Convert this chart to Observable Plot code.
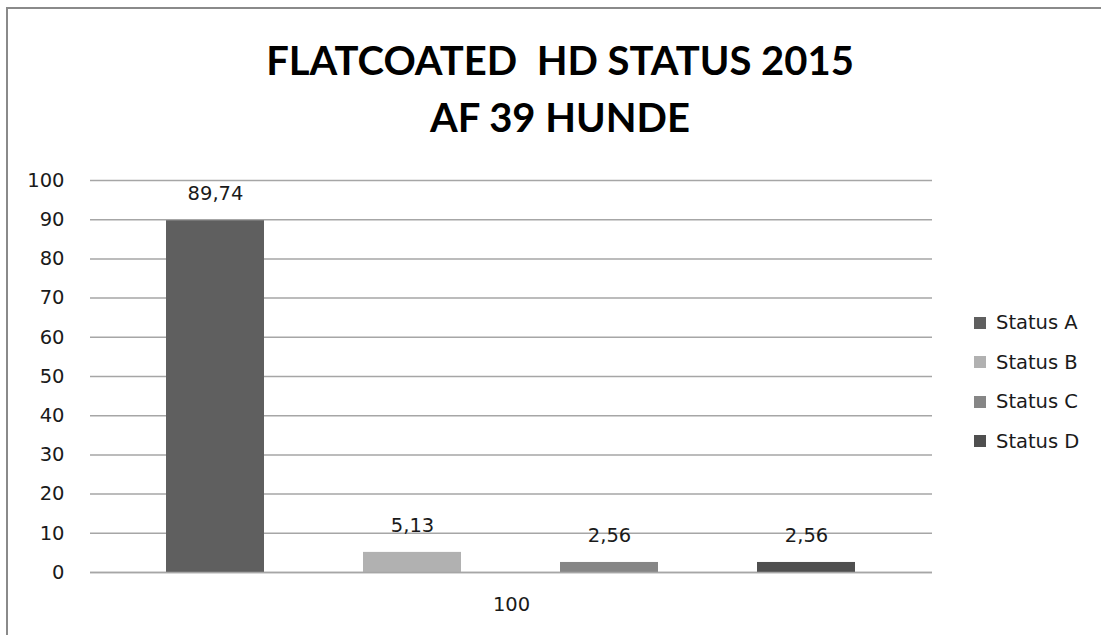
<!DOCTYPE html>
<html><head><meta charset="utf-8">
<script src="https://cdn.jsdelivr.net/npm/d3@7"></script>
<script src="https://cdn.jsdelivr.net/npm/@observablehq/plot@0.6"></script>
<style>
body{margin:0;background:#fff;font-family:"DejaVu Sans",sans-serif;width:1101px;height:635px;overflow:hidden;position:relative;}
#frame{position:absolute;left:6px;top:7px;width:1095px;height:628px;border-left:2px solid #8a8a8a;border-top:2px solid #8a8a8a;box-sizing:border-box;}
#title{position:absolute;left:0;top:32px;width:1120px;text-align:center;font-family:Lato,"Noto Sans",sans-serif;font-weight:700;font-size:40px;line-height:57px;color:#000;}
#chart{position:absolute;left:0;top:150px;}
#legend{position:absolute;left:974px;top:303px;font-size:19.5px;color:#1a1a1a;}
.item{display:flex;align-items:center;height:39.5px;}
.sw{width:12px;height:12px;margin-right:10px;}
</style></head><body>
<div id="frame"></div>
<div id="title">FLATCOATED&nbsp; HD STATUS 2015<br>AF 39 HUNDE</div>
<div id="chart"></div>
<div id="legend"></div>
<script>
const categories = ["100"];
const statuses = ["Status A", "Status B", "Status C", "Status D"];
const values = [89.74, 5.13, 2.56, 2.56];
const colors = ["#5f5f5f", "#b1b1b1", "#868686", "#4f4f4f"];
const yTicks = [0, 10, 20, 30, 40, 50, 60, 70, 80, 90, 100];

const data = statuses.map((s, i) => ({category: categories[0], status: s, value: values[i]}));
const fmt = d3.formatLocale({decimal: ",", thousands: ".", grouping: [3], currency: ["", ""]}).format(".2f");

const chart = Plot.plot({
  width: 950, height: 485,
  marginLeft: 90, marginRight: 18, marginTop: 30, marginBottom: 63,
  style: {fontFamily: "'DejaVu Sans', sans-serif", fontSize: "19.5px", color: "#1a1a1a", background: "transparent"},
  fx: {domain: categories, padding: 0, label: null, axis: "bottom", tickSize: 0, tickPadding: 25},
  x: {domain: statuses, paddingInner: 0.502, paddingOuter: 0.38, axis: null},
  y: {domain: [0, 100], ticks: yTicks, label: null, tickSize: 0, tickPadding: 26},
  color: {domain: statuses, range: colors},
  marks: [
    Plot.gridY(yTicks, {stroke: "#a6a6a6", strokeOpacity: 1, strokeWidth: 1.5}),
    Plot.barY(data, {fx: "category", x: "status", y: "value", fill: "status"}),
    Plot.ruleY([0], {stroke: "#a6a6a6", strokeWidth: 1.5}),
    Plot.text(data, {fx: "category", x: "status", y: "value", text: d => fmt(d.value), dy: -27, fontSize: 19.5, fill: "#1a1a1a"})
  ]
});
document.getElementById("chart").appendChild(chart);

const legend = d3.select("#legend");
statuses.forEach((s, i) => {
  const item = legend.append("div").attr("class", "item");
  item.append("div").attr("class", "sw").style("background", colors[i]);
  item.append("span").text(s);
});
</script>
</body></html>
